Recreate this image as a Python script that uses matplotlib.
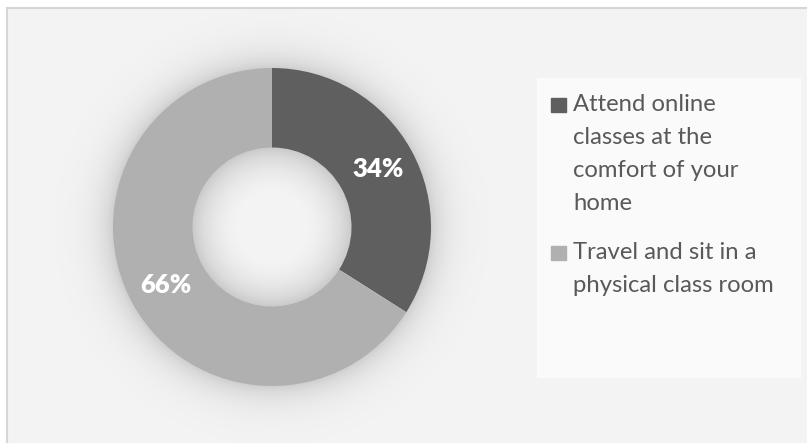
import numpy as np
import matplotlib.pyplot as plt
from matplotlib.patches import Rectangle

# survey answers: where would you rather take your classes
labels = ["Attend online\nclasses at the\ncomfort of your\nhome",
          "Travel and sit in a\nphysical class room"]
shares = [34, 66]
colors = ["#5f5f5f", "#b0b0b0"]

W, H = 807, 443
cx, cy, r_out = 272, 227, 159
hole = 0.5


def draw_background(bg):
    """Frame, soft drop shadow round the ring and the legend box."""
    bg.set_xlim(0, W)
    bg.set_ylim(H, 0)
    bg.axis("off")
    bg.add_patch(Rectangle((0, 0), W, H, color="white", zorder=0))
    bg.add_patch(Rectangle((7, 8), W, H, facecolor="#f3f3f3",
                           edgecolor="#d6d6d6", lw=1.5, zorder=1))

    yy, xx = np.mgrid[0:H, 0:W] + 0.5
    d = np.hypot(xx - cx, yy - cy)
    r_in = r_out * hole
    alpha = np.zeros_like(d)
    out = d > r_out - 2
    alpha[out] = 0.15 * np.exp(-(d[out] - r_out) / 16)
    inn = d < r_in + 2
    alpha[inn] = 0.20 * np.exp(-(r_in - d[inn]) / 24) - 0.03
    shade = np.zeros((H, W, 4))
    shade[..., 3] = np.clip(alpha, 0, 1)
    white = np.zeros((H, W, 4)) + 1.0
    white[..., 3] = np.clip(-alpha, 0, 1)
    bg.imshow(shade, extent=(0, W, H, 0), zorder=2, interpolation="bilinear")
    bg.imshow(white, extent=(0, W, H, 0), zorder=2, interpolation="bilinear")
    bg.set_xlim(0, W)
    bg.set_ylim(H, 0)

    bg.add_patch(Rectangle((537, 78), 263, 299, color="#fafafa", zorder=3))


def draw_legend(bg):
    y = 111
    for lab, col in zip(labels, colors):
        bg.add_patch(Rectangle((551, y - 13), 15, 14, color=col, zorder=4))
        for line in lab.split("\n"):
            bg.text(573, y, line, fontsize=17.2, family="Lato", color="#595959",
                    va="baseline", ha="left", zorder=5)
            y += 33
        y += 16


def draw_donut(fig):
    ax = fig.add_axes([(cx - r_out) / W, (H - cy - r_out) / H,
                       2 * r_out / W, 2 * r_out / H])
    wedges, _, pct = ax.pie(shares, colors=colors, startangle=90,
                            counterclock=False, radius=1,
                            autopct=lambda p: f"{p:.0f}%", pctdistance=0.76,
                            wedgeprops=dict(width=1 - hole, linewidth=0))
    for t in pct:
        t.set_color("white")
        t.set_fontsize(18.5)
        t.set_fontweight("heavy")
        t.set_family("Lato")
    ax.set_xlim(-1, 1)
    ax.set_ylim(-1, 1)
    ax.set_aspect("equal")
    ax.axis("off")


def main():
    fig = plt.figure(figsize=(W / 100, H / 100), dpi=100)
    bg = fig.add_axes([0, 0, 1, 1])
    draw_background(bg)
    draw_legend(bg)
    draw_donut(fig)
    fig.savefig("out.png", dpi=100)


if __name__ == "__main__":
    main()
